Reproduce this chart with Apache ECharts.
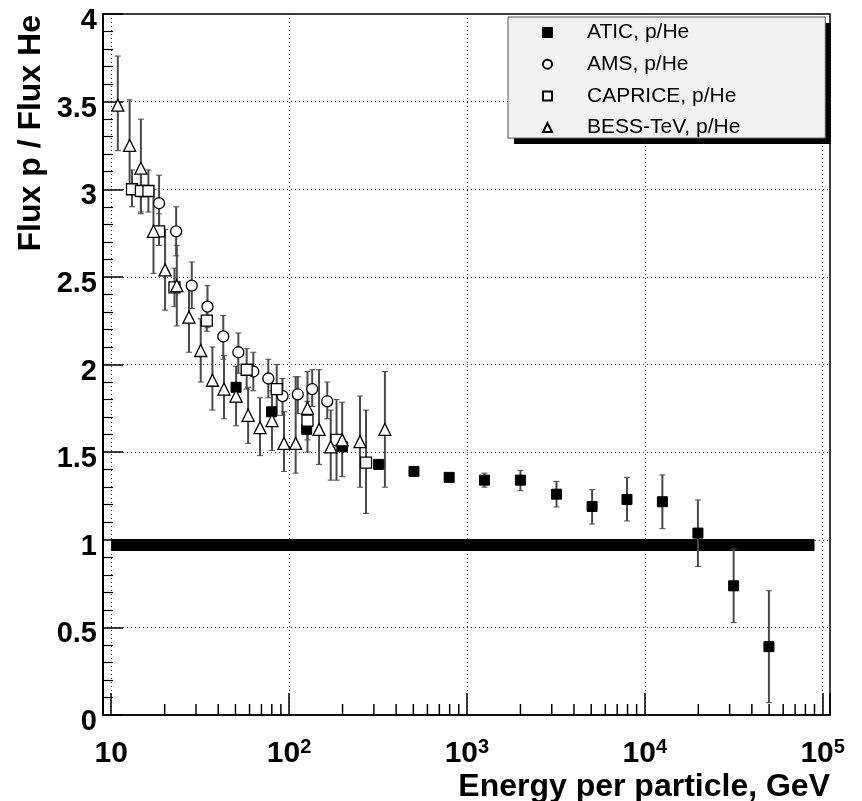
<!DOCTYPE html>
<html>
<head>
<meta charset="utf-8">
<script src="https://cdn.jsdelivr.net/npm/echarts@6/dist/echarts.min.js"></script>
<style>
html,body{margin:0;padding:0;background:#fff;}
#chart{width:862px;height:801px;}
</style>
</head>
<body>
<div id="chart"></div>
<script>
// ---- data ----
const aticE  = [50.4, 79.8, 125.7, 200, 319, 504, 795, 1256, 2000, 3190, 5058, 7943, 12560, 19900, 31600, 49900];
const aticR  = [1.87, 1.73, 1.63, 1.53, 1.43, 1.39, 1.356, 1.34, 1.34, 1.26, 1.19, 1.23, 1.217, 1.038, 0.737, 0.39];
const aticLo = [1.85, 1.71, 1.61, 1.51, 1.41, 1.38, 1.345, 1.30, 1.28, 1.187, 1.09, 1.107, 1.063, 0.847, 0.527, 0.07];
const aticHi = [1.89, 1.75, 1.65, 1.55, 1.45, 1.40, 1.367, 1.38, 1.396, 1.333, 1.286, 1.356, 1.37, 1.227, 0.947, 0.709];

const amsE  = [18.6, 23.2, 28.4, 34.8, 42.7, 51.9, 63, 76.5, 92, 112, 135, 164];
const amsR  = [2.92, 2.76, 2.45, 2.33, 2.16, 2.07, 1.96, 1.92, 1.82, 1.83, 1.86, 1.79];
const amsLo = [2.78, 2.62, 2.32, 2.21, 2.03, 1.95, 1.85, 1.81, 1.71, 1.72, 1.76, 1.69];
const amsHi = [3.08, 2.90, 2.585, 2.45, 2.28, 2.18, 2.07, 2.03, 1.92, 1.93, 1.97, 1.90];

const capE  = [13.1, 14.7, 16.2, 18.6, 22.7, 34.5, 57.8, 85.3, 127, 185, 271];
const capR  = [3.00, 2.99, 2.99, 2.76, 2.44, 2.25, 1.97, 1.86, 1.68, 1.57, 1.44];
const capLo = [2.90, 2.86, 2.87, 2.68, 2.33, 2.19, 1.86, 1.71, 1.57, 1.34, 1.15];
const capHi = [3.11, 3.11, 3.11, 2.86, 2.55, 2.33, 2.09, 2.00, 1.79, 1.80, 1.74];

const bessE  = [10.9, 12.7, 14.7, 17.3, 20.1, 23.4, 27.4, 31.9, 37.1, 43.1, 50.4, 58.9, 68.7, 80.2, 93.7, 109, 127, 147.5, 171.6, 199, 250.6, 346];
const bessR  = [3.48, 3.25, 3.12, 2.76, 2.54, 2.45, 2.27, 2.08, 1.91, 1.86, 1.82, 1.71, 1.64, 1.68, 1.55, 1.55, 1.75, 1.63, 1.53, 1.57, 1.56, 1.63];
const bessLo = [3.22, 2.99, 2.87, 2.52, 2.31, 2.22, 2.07, 1.90, 1.74, 1.69, 1.65, 1.55, 1.48, 1.51, 1.39, 1.38, 1.50, 1.43, 1.34, 1.36, 1.30, 1.30];
const bessHi = [3.76, 3.51, 3.40, 3.00, 2.77, 2.68, 2.47, 2.26, 2.10, 2.05, 1.99, 1.87, 1.81, 1.85, 1.73, 1.93, 1.96, 1.97, 1.74, 1.785, 1.82, 1.96];

// reference band (thick line)
const bandE = [10, 90000];
const bandR = [0.97, 0.97];

// axis ticks
const xMinorTicks = [20,30,40,50,60,70,80,90, 200,300,400,500,600,700,800,900,
                     2000,3000,4000,5000,6000,7000,8000,9000, 20000,30000,40000,50000,60000,70000,80000,90000];

const names = ['ATIC, p/He', 'AMS, p/He', 'CAPRICE, p/He', 'BESS-TeV, p/He'];

// ---- build ----
function pairs(xs, ys){ return xs.map((x,i)=>[x, ys[i]]); }
function errs(xs, lo, hi){ return xs.map((x,i)=>[x, lo[i], hi[i]]); }
const errData = [].concat(
  errs(aticE, aticLo, aticHi), errs(amsE, amsLo, amsHi),
  errs(capE, capLo, capHi), errs(bessE, bessLo, bessHi));

const FONT = 'Liberation Sans, Arial, Helvetica, sans-serif';

function renderErr(params, api){
  const x = api.value(0), lo = api.value(1), hi = api.value(2);
  const a = api.coord([x, lo]), b = api.coord([x, hi]);
  const c = 3;
  const st = {stroke:'#4a4a4a', lineWidth:2};
  const sc = {stroke:'#4a4a4a', lineWidth:1};
  return {type:'group', children:[
    {type:'line', shape:{x1:a[0], y1:a[1], x2:b[0], y2:b[1]}, style:st},
    {type:'line', shape:{x1:a[0]-c, y1:a[1], x2:a[0]+c, y2:a[1]}, style:sc},
    {type:'line', shape:{x1:b[0]-c, y1:b[1], x2:b[0]+c, y2:b[1]}, style:sc}
  ]};
}
function renderMinor(params, api){
  const p = api.coord([api.value(0), 0]);
  return {type:'line', shape:{x1:p[0], y1:p[1], x2:p[0], y2:p[1]-11}, style:{stroke:'#000', lineWidth:1.5}};
}

const hollow = {color:'#fff', borderColor:'#000', borderWidth:1.3, opacity:1};

const option = {
  animation:false,
  backgroundColor:'#fff',
  grid:{left:103, right:32, top:14, bottom:86, outerBoundsMode:'none', containLabel:false,
        show:true, borderColor:'#000', borderWidth:1.5, backgroundColor:'transparent'},
  graphic:[
    // legend drop shadow
    {type:'rect', left:514, top:23, shape:{width:317, height:121}, style:{fill:'#000'}, z:0, silent:true}
  ],
  legend:{
    orient:'vertical', left:508, top:17, z:10,
    data:[{name:names[0], icon:'rect'},{name:names[1], icon:'circle'},{name:names[2], icon:'rect'},{name:names[3], icon:'triangle'}],
    itemWidth:9, itemHeight:9, itemGap:10.7,
    padding:[5, 85, 0, 34],
    backgroundColor:'#f2f2f2', borderColor:'#555', borderWidth:1,
    textStyle:{fontFamily:FONT, fontSize:21, color:'#000', lineHeight:21, padding:[0,0,0,30]}
  },
  xAxis:{
    type:'log', logBase:10, min:9, max:110000,
    axisLine:{show:true, lineStyle:{color:'#000', width:1.5}},
    axisTick:{show:true, inside:true, length:22, lineStyle:{color:'#000', width:1.5}},
    splitLine:{show:true, lineStyle:{color:'#333', type:[1,3], width:1}},
    axisLabel:{
      margin:22, color:'#000',
      formatter:function(v){
        const e = Math.round(Math.log10(v));
        if (Math.abs(Math.pow(10,e) - v) > 1e-6*v) return '';
        if (e === 1) return '{b|10}';
        return '{b|10}{s|' + e + '}';
      },
      rich:{
        b:{fontFamily:FONT, fontWeight:'bold', fontSize:30, color:'#000', lineHeight:34},
        s:{fontFamily:FONT, fontWeight:'bold', fontSize:20, color:'#000', verticalAlign:'top', lineHeight:20}
      }
    },
    name:'Energy per particle, GeV', nameLocation:'end', nameGap:0,
    nameTextStyle:{fontFamily:FONT, fontWeight:'bold', fontSize:32, color:'#000', align:'right', verticalAlign:'top', padding:[56,0,0,0]}
  },
  yAxis:{
    type:'value', min:0, max:4, interval:0.5,
    axisLine:{show:true, lineStyle:{color:'#000', width:2}},
    axisTick:{show:true, inside:true, length:20, lineStyle:{color:'#000', width:1.5}},
    minorTick:{show:true, splitNumber:5, length:10, lineStyle:{color:'#000', width:1.2}},
    splitLine:{show:true, lineStyle:{color:'#333', type:[1,3], width:1}},
    axisLabel:{
      margin:6, color:'#000',
      formatter:function(v){ return '{a|' + v + '}'; },
      rich:{a:{fontFamily:FONT, fontWeight:'bold', fontSize:29, color:'#000', lineHeight:30, padding:[14,0,0,0]}}
    },
    name:'Flux p / Flux He', nameLocation:'end', nameGap:-1, nameRotate:90,
    nameTextStyle:{fontFamily:FONT, fontWeight:'bold', fontSize:32, color:'#000', align:'right', verticalAlign:'bottom', padding:[0,0,56,0]}
  },
  series:[
    {type:'line', name:'band', data:pairs(bandE, bandR), symbol:'none', lineStyle:{color:'#000', width:12}, silent:true, z:1},
    {type:'custom', name:'errors', data:errData, renderItem:renderErr, encode:{x:0, y:[1,2]}, z:2, silent:true},
    {type:'custom', name:'minor', data:xMinorTicks.map(v=>[v]), renderItem:renderMinor, encode:{x:0}, z:2, silent:true, clip:false},
    {type:'scatter', name:names[0], data:pairs(aticE, aticR), symbol:'rect', symbolSize:10, itemStyle:{color:'#000', borderColor:'#000', borderWidth:1, opacity:1}, z:3},
    {type:'scatter', name:names[1], data:pairs(amsE, amsR), symbol:'circle', symbolSize:11, itemStyle:hollow, z:3},
    {type:'scatter', name:names[2], data:pairs(capE, capR), symbol:'rect', symbolSize:11, itemStyle:hollow, z:3},
    {type:'scatter', name:names[3], data:pairs(bessE, bessR), symbol:'triangle', symbolSize:12, itemStyle:hollow, z:3}
  ]
};
const chart = echarts.init(document.getElementById('chart'), null, {renderer:'canvas'});
chart.setOption(option);
</script>
</body>
</html>
